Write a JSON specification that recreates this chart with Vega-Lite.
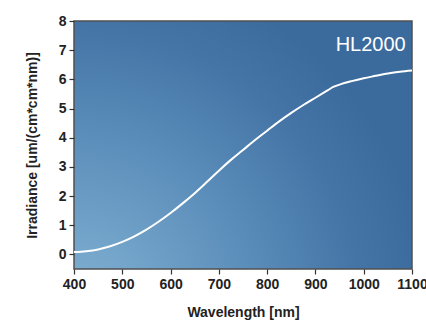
{
  "$schema": "https://vega.github.io/schema/vega-lite/v6.json",
  "autosize": {"type": "none"},
  "width": 338,
  "height": 248,
  "padding": {"left": 74, "top": 21, "right": 14, "bottom": 53},
  "background": "white",
  "config": {
    "font": "Liberation Sans",
    "view": {
      "stroke": "#505050",
      "strokeWidth": 1.5,
      "fill": {
        "gradient": "radial",
        "x1": 0, "y1": 1, "r1": 0,
        "x2": 0, "y2": 1, "r2": 1.05,
        "stops": [
          {"offset": 0, "color": "#84b4d4"},
          {"offset": 0.5, "color": "#5c8ebb"},
          {"offset": 0.8, "color": "#4475a6"},
          {"offset": 1, "color": "#3b6b9c"}
        ]
      }
    },
    "axis": {
      "grid": false,
      "domain": false,
      "tickColor": "#333",
      "tickSize": 5,
      "tickWidth": 1.2,
      "labelFlush": false,
      "labelBound": false,
      "labelOverlap": false,
      "labelFont": "Liberation Sans",
      "labelFontSize": 14,
      "labelFontWeight": "bold",
      "labelColor": "#222",
      "titleFont": "Liberation Sans",
      "titleFontSize": 14,
      "titleFontWeight": "bold",
      "titleColor": "#222"
    }
  },
  "layer": [
    {
      "data": {"values": [
        {"wl": 400, "irr": 0.08}, {"wl": 425, "irr": 0.11}, {"wl": 450, "irr": 0.17},
        {"wl": 475, "irr": 0.28}, {"wl": 500, "irr": 0.43}, {"wl": 525, "irr": 0.62},
        {"wl": 550, "irr": 0.85}, {"wl": 575, "irr": 1.12}, {"wl": 600, "irr": 1.42},
        {"wl": 625, "irr": 1.75}, {"wl": 650, "irr": 2.10}, {"wl": 675, "irr": 2.48},
        {"wl": 700, "irr": 2.87}, {"wl": 725, "irr": 3.24}, {"wl": 750, "irr": 3.58},
        {"wl": 775, "irr": 3.92}, {"wl": 800, "irr": 4.24}, {"wl": 825, "irr": 4.56},
        {"wl": 850, "irr": 4.85}, {"wl": 875, "irr": 5.12}, {"wl": 900, "irr": 5.37},
        {"wl": 925, "irr": 5.62}, {"wl": 937, "irr": 5.74}, {"wl": 950, "irr": 5.82},
        {"wl": 975, "irr": 5.94}, {"wl": 1000, "irr": 6.04}, {"wl": 1025, "irr": 6.12},
        {"wl": 1050, "irr": 6.20}, {"wl": 1075, "irr": 6.26}, {"wl": 1100, "irr": 6.30}
      ]},
      "mark": {"type": "line", "color": "white", "strokeWidth": 2, "interpolate": "monotone"},
      "encoding": {
        "x": {
          "field": "wl", "type": "quantitative",
          "scale": {"domain": [400, 1100], "nice": false, "zero": false},
          "axis": {"values": [400, 500, 600, 700, 800, 900, 1000, 1100], "format": "d", "title": "Wavelength [nm]", "titlePadding": 14, "labelPadding": 3}
        },
        "y": {
          "field": "irr", "type": "quantitative",
          "scale": {"domain": [-0.5, 8], "nice": false, "zero": false},
          "axis": {"values": [0, 1, 2, 3, 4, 5, 6, 7, 8], "format": "d", "title": "Irradiance [um/(cm*cm*nm)]", "titlePadding": 19, "labelPadding": 3}
        }
      }
    },
    {
      "data": {"values": [{"wl": 1087, "irr": 7.18, "label": "HL2000"}]},
      "mark": {"type": "text", "color": "white", "fontSize": 20, "align": "right", "baseline": "middle", "font": "Liberation Sans"},
      "encoding": {
        "x": {"field": "wl", "type": "quantitative",
          "axis": {"values": [400, 500, 600, 700, 800, 900, 1000, 1100], "format": "d", "title": "Wavelength [nm]", "titlePadding": 14, "labelPadding": 3}},
        "y": {"field": "irr", "type": "quantitative",
          "axis": {"values": [0, 1, 2, 3, 4, 5, 6, 7, 8], "format": "d", "title": "Irradiance [um/(cm*cm*nm)]", "titlePadding": 19, "labelPadding": 3}},
        "text": {"field": "label"}
      }
    }
  ]
}
